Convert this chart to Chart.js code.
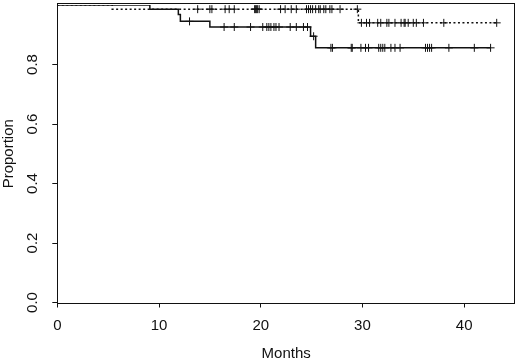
<!DOCTYPE html>
<html>
<head>
<meta charset="utf-8">
<script src="https://cdn.jsdelivr.net/npm/chart.js@4.4.1/dist/chart.umd.min.js"></script>
<style>
  html, body { margin: 0; padding: 0; background: #fff; }
  canvas { display: block; }
</style>
</head>
<body>
<canvas id="km" width="520" height="363"></canvas>
<script>
// Kaplan-Meier steps (months, proportion)
var solidTimes = [0, 9.1, 11.9, 12.1, 15.0, 24.9, 25.4, 42.6];
var solidSurv  = [1, 0.986, 0.968, 0.945, 0.926, 0.895, 0.856, 0.856];
var solidCensor = [13.0, 16.4, 17.4, 19.0, 20.2, 20.6, 20.8, 21.0, 21.3, 21.5, 21.8,
                   22.9, 23.5, 24.2, 24.6, 25.2, 26.9, 27.05, 28.9, 29.0, 29.85, 30.3,
                   30.6, 31.6, 31.8, 32.0, 32.2, 32.8, 33.2, 33.7, 36.2, 36.4, 36.6,
                   36.8, 38.5, 41.0, 42.6];

var dottedTimes = [0, 5.4, 29.6, 43.2];
var dottedSurv  = [1, 0.986, 0.940, 0.940];
var dottedCensor = [13.8, 15.0, 15.2, 16.5, 16.9, 17.4, 19.4, 19.5, 19.6, 19.7, 19.85,
                    21.95, 22.4, 23.0, 23.5, 24.5, 24.7, 24.9, 25.1, 25.4, 25.7, 25.85,
                    26.2, 26.4, 26.8, 27.0, 27.8, 29.5, 29.9, 30.4, 30.7, 31.5, 31.8,
                    32.4, 32.6, 33.2, 33.8, 34.1, 34.2, 34.5, 35.0, 35.3, 36.0, 38.0, 43.2];

var xTicks = [0, 10, 20, 30, 40];
var yTicks = [0, 0.2, 0.4, 0.6, 0.8];

var FONT = "'Liberation Sans', Arial, sans-serif";
var INK = '#111';

function steps(times, surv) {
    var pts = [];
    for (var i = 0; i < times.length; i++) {
        pts.push({x: times[i], y: surv[i]});
    }
    return pts;
}

/* value of the step curve at time t */
function survAt(times, surv, t) {
    var s = surv[0];
    for (var i = 0; i < times.length; i++) {
        if (times[i] <= t) { s = surv[i]; }
    }
    return s;
}

function marks(censor, times, surv) {
    return censor.map(function (t) {
        return {x: t, y: survAt(times, surv, t)};
    });
}

var boxPlugin = {
    id: 'box',
    afterDraw: function (chart) {
        var a = chart.chartArea;
        var ctx = chart.ctx;
        ctx.save();
        ctx.strokeStyle = INK;
        ctx.lineWidth = 1;
        ctx.strokeRect(Math.round(a.left) + 0.5, Math.round(a.top) - 1.5,
                       Math.round(a.right - a.left) - 1, Math.round(a.bottom - a.top) + 2);
        ctx.restore();
    }
};

var lineStyle = {
    showLine: true,
    stepped: 'before',
    borderColor: INK,
    borderWidth: 1.5,
    pointRadius: 0,
    fill: false
};

var markStyle = {
    showLine: false,
    pointStyle: 'cross',
    pointRadius: 4,
    borderColor: INK,
    borderWidth: 1,
    pointBorderColor: INK
};

new Chart(document.getElementById('km'), {
    type: 'scatter',
    data: {
        datasets: [
            Object.assign({label: 'solid', order: 0, data: steps(solidTimes, solidSurv)}, lineStyle),
            Object.assign({label: 'solid censored', order: 0, data: marks(solidCensor, solidTimes, solidSurv)}, markStyle),
            Object.assign({label: 'dotted', order: 1, borderDash: [2, 2.5], data: steps(dottedTimes, dottedSurv)}, lineStyle),
            Object.assign({label: 'dotted censored', order: 1, data: marks(dottedCensor, dottedTimes, dottedSurv)}, markStyle)
        ]
    },
    options: {
        responsive: false,
        animation: false,
        layout: {padding: {top: 3.7, right: 2.3, left: 0, bottom: 0}},
        plugins: {legend: {display: false}, tooltip: {enabled: false}},
        scales: {
            x: {
                type: 'linear',
                min: 0,
                max: 45,
                afterBuildTicks: function (s) { s.ticks = xTicks.map(function (v) { return {value: v}; }); },
                afterFit: function (s) { s.height = 60.5; s.paddingLeft = 0; s.paddingRight = 0; },
                border: {display: false},
                grid: {drawOnChartArea: false, drawTicks: true, tickLength: 5, tickColor: INK, tickWidth: 1},
                ticks: {color: INK, font: {family: FONT, size: 15}, padding: 9, maxRotation: 0,
                        callback: function (v) { return String(v); }},
                title: {display: true, text: 'Months', color: INK, font: {family: FONT, size: 15},
                        padding: {top: 0, bottom: 0}}
            },
            y: {
                type: 'linear',
                min: 0,
                max: 1.0,
                afterBuildTicks: function (s) { s.ticks = yTicks.map(function (v) { return {value: v}; }); },
                afterFit: function (s) { s.width = 57.3; s.paddingTop = 0; s.paddingBottom = 0; },
                border: {display: false},
                grid: {drawOnChartArea: false, drawTicks: true, tickLength: 5, tickColor: INK, tickWidth: 1},
                ticks: {color: INK, font: {family: FONT, size: 15}, padding: 9,
                        minRotation: 90, maxRotation: 90, crossAlign: 'center',
                        callback: function (v) { return v.toFixed(1); }},
                title: {display: true, text: 'Proportion', color: INK, font: {family: FONT, size: 15},
                        padding: {top: 0, bottom: 0}}
            }
        }
    },
    plugins: [boxPlugin]
});
</script>
</body>
</html>
